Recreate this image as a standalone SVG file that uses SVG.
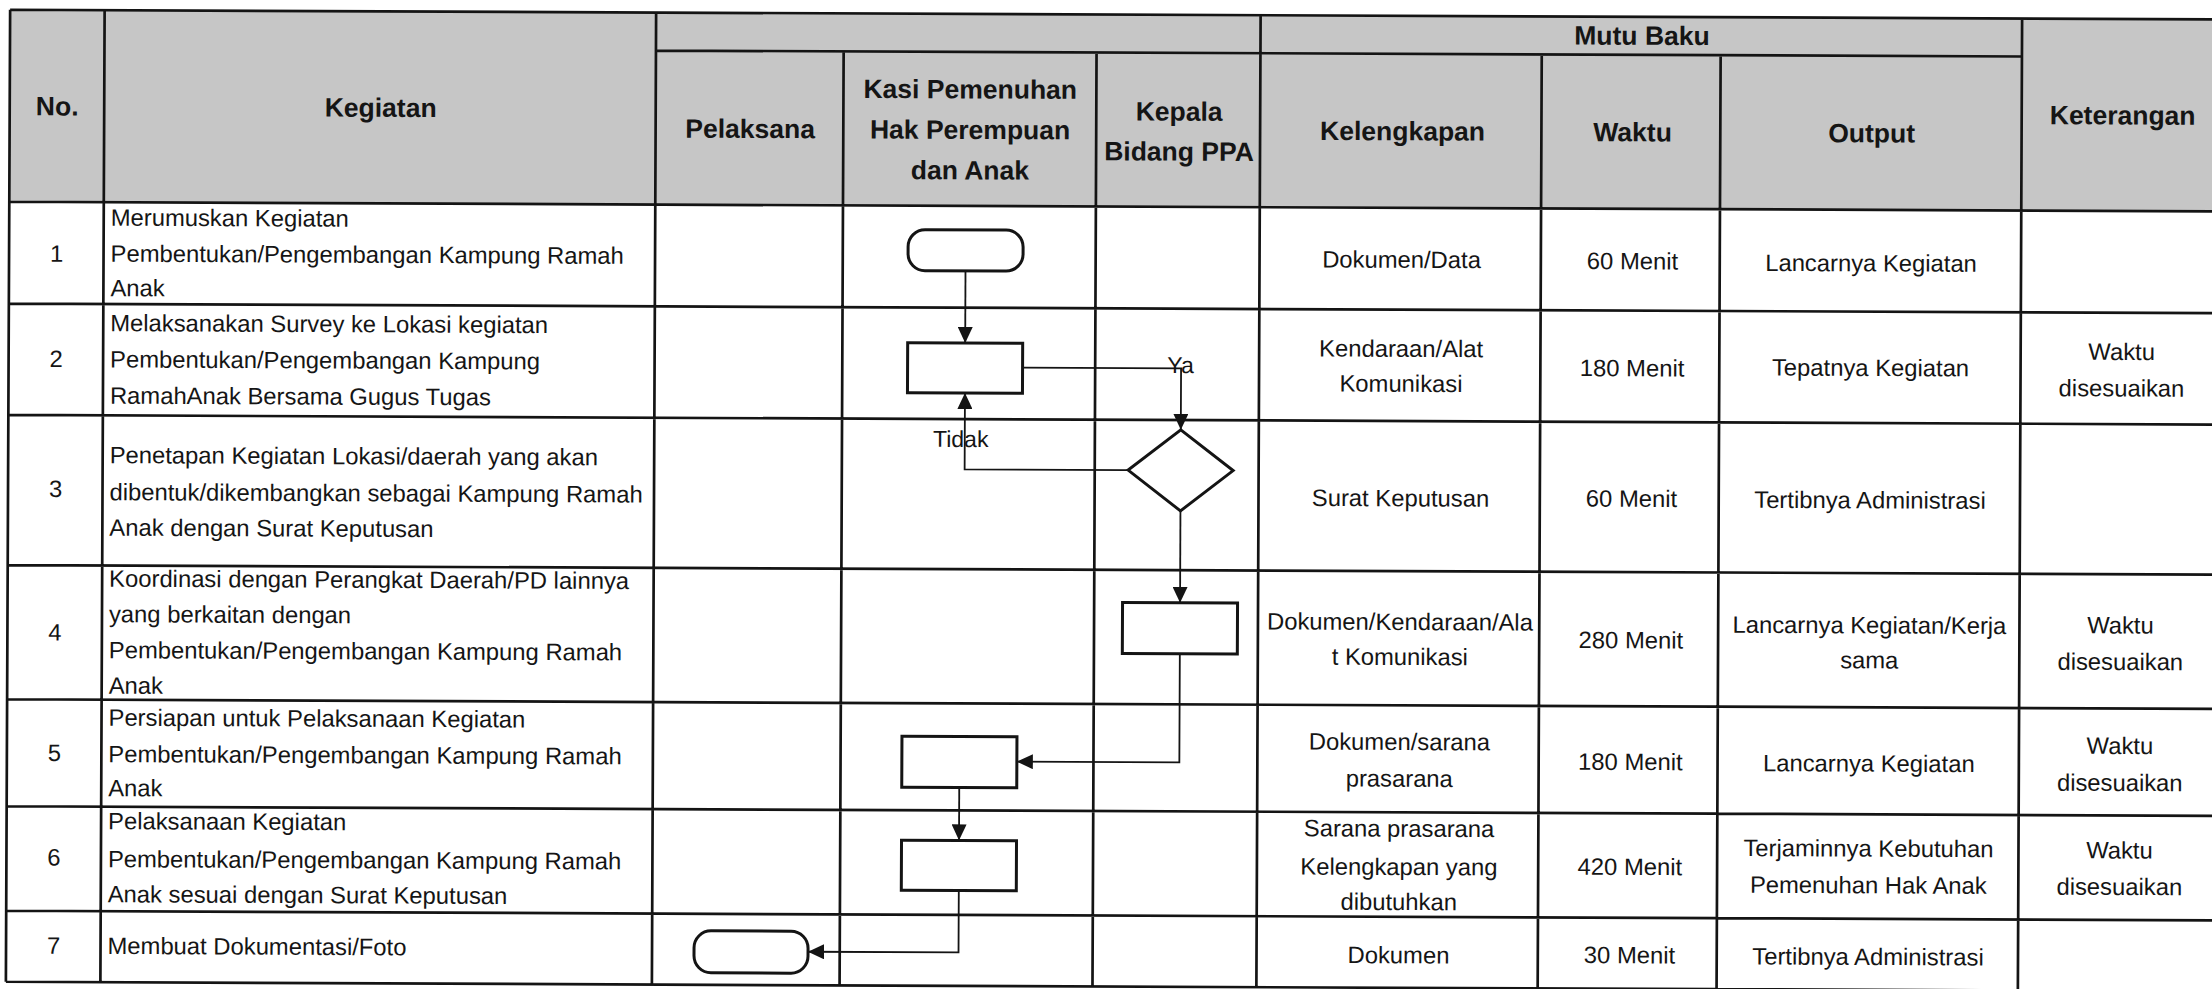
<svg xmlns="http://www.w3.org/2000/svg" width="2212" height="989" viewBox="0 0 2212 989">
<defs>
<style>
.hdrfill{fill:#c6c6c6;stroke:none}
.grid{fill:none;stroke:#141414;stroke-width:2.7}
.t{font-family:"Liberation Sans",Arial,sans-serif;font-size:23.8px;fill:#151515}
.c{text-anchor:middle}
.h{font-family:"Liberation Sans",Arial,sans-serif;font-size:26.5px;font-weight:bold;fill:#151515;text-anchor:middle}
.lbl{font-family:"Liberation Sans",Arial,sans-serif;font-size:23px;fill:#151515}
.shape{fill:#ffffff;stroke:#141414;stroke-width:3}
.conn{fill:none;stroke:#141414;stroke-width:1.8;marker-end:url(#arr)}
</style>
<marker id="arr" markerUnits="userSpaceOnUse" markerWidth="16" markerHeight="15" refX="16" refY="7.5" orient="auto">
<path d="M0,0 L16,7.5 L0,15 Z" fill="#141414"/>
</marker>
</defs>
<rect x="0" y="0" width="2212" height="989" fill="#ffffff"/>
<g transform="rotate(0.25 1100 500)">
<g id="table">
<rect class="hdrfill" x="8" y="14.5" width="2214" height="192"/>
<path class="grid" d="M8,14.5 H2222 M654,52.5 H2020 M8,206.5 H2222 M8,308.3 H2222 M8,419.7 H2222 M8,569.8 H2222 M8,704 H2222 M8,811 H2222 M8,915.5 H2222 M8,986.5 H2222 M8,14.5 V986.5 M102.5,14.5 V986.5 M654,14.5 V986.5 M841.7,52.5 V986.5 M1094.6,52.5 V986.5 M1258.5,14.5 V986.5 M1539.8,52.5 V986.5 M1718.7,52.5 V986.5 M2020,14.5 V986.5 M2222,14.5 V986.5"/>
</g>
<g id="header">
<text class="h" x="55.5" y="120">No.</text>
<text class="h" x="379" y="120">Kegiatan</text>
<text class="h" x="748.5" y="139.5">Pelaksana</text>
<text class="h" x="968.5" y="99">Kasi Pemenuhan</text>
<text class="h" x="968.5" y="139.5">Hak Perempuan</text>
<text class="h" x="968.5" y="180">dan Anak</text>
<text class="h" x="1177.5" y="120.3">Kepala</text>
<text class="h" x="1177.5" y="160.3">Bidang PPA</text>
<text class="h" x="1640" y="42.5">Mutu Baku</text>
<text class="h" x="1401" y="139">Kelengkapan</text>
<text class="h" x="1631" y="139">Waktu</text>
<text class="h" x="1870" y="139">Output</text>
<text class="h" x="2121" y="120">Keterangan</text>
</g>
<g id="row1">
<text class="t c" x="55.5" y="266.3">1</text>
<text class="t" x="109.5" y="230">Merumuskan Kegiatan</text>
<text class="t" x="109.5" y="266">Pembentukan/Pengembangan Kampung Ramah</text>
<text class="t" x="109.5" y="300.5">Anak</text>
<text class="t c" x="1400.5" y="266.5">Dokumen/Data</text>
<text class="t c" x="1631.5" y="267">60 Menit</text>
<text class="t c" x="1870" y="268">Lancarnya Kegiatan</text>
</g>
<g id="row2">
<text class="t c" x="55.5" y="371.6">2</text>
<text class="t" x="109.5" y="335.5">Melaksanakan Survey ke Lokasi kegiatan</text>
<text class="t" x="109.5" y="371.8">Pembentukan/Pengembangan Kampung</text>
<text class="t" x="109.5" y="408">RamahAnak Bersama Gugus Tugas</text>
<text class="t c" x="1400.5" y="355.5">Kendaraan/Alat</text>
<text class="t c" x="1400.5" y="390.5">Komunikasi</text>
<text class="t c" x="1631.5" y="374">180 Menit</text>
<text class="t c" x="1870" y="372.6">Tepatnya Kegiatan</text>
<text class="t c" x="2121" y="355.5">Waktu</text>
<text class="t c" x="2121" y="392">disesuaikan</text>
</g>
<g id="row3">
<text class="t c" x="55.5" y="501.5">3</text>
<text class="t" x="109.5" y="467.5">Penetapan Kegiatan Lokasi/daerah yang akan</text>
<text class="t" x="109.5" y="504.5">dibentuk/dikembangkan sebagai Kampung Ramah</text>
<text class="t" x="109.5" y="540">Anak dengan Surat Keputusan</text>
<text class="t c" x="1400.5" y="505">Surat Keputusan</text>
<text class="t c" x="1631.5" y="504.5">60 Menit</text>
<text class="t c" x="1870" y="505">Tertibnya Administrasi</text>
</g>
<g id="row4">
<text class="t c" x="55.5" y="645">4</text>
<text class="t" x="109.5" y="591">Koordinasi dengan Perangkat Daerah/PD lainnya</text>
<text class="t" x="109.5" y="626.5">yang berkaitan dengan</text>
<text class="t" x="109.5" y="662.5">Pembentukan/Pengembangan Kampung Ramah</text>
<text class="t" x="109.5" y="698">Anak</text>
<text class="t c" x="1400.5" y="628.7">Dokumen/Kendaraan/Ala</text>
<text class="t c" x="1400.5" y="663.7">t Komunikasi</text>
<text class="t c" x="1631.5" y="646">280 Menit</text>
<text class="t c" x="1870" y="630">Lancarnya Kegiatan/Kerja</text>
<text class="t c" x="1870" y="665">sama</text>
<text class="t c" x="2121" y="629">Waktu</text>
<text class="t c" x="2121" y="665.5">disesuaikan</text>
</g>
<g id="row5">
<text class="t c" x="55.5" y="765.6">5</text>
<text class="t" x="109.5" y="730">Persiapan untuk Pelaksanaan Kegiatan</text>
<text class="t" x="109.5" y="766.5">Pembentukan/Pengembangan Kampung Ramah</text>
<text class="t" x="109.5" y="800.5">Anak</text>
<text class="t c" x="1400.5" y="748.7">Dokumen/sarana</text>
<text class="t c" x="1400.5" y="785.4">prasarana</text>
<text class="t c" x="1631.5" y="767.7">180 Menit</text>
<text class="t c" x="1870" y="768.3">Lancarnya Kegiatan</text>
<text class="t c" x="2121" y="749.5">Waktu</text>
<text class="t c" x="2121" y="786.5">disesuaikan</text>
</g>
<g id="row6">
<text class="t c" x="55.5" y="870">6</text>
<text class="t" x="109.5" y="833.5">Pelaksanaan Kegiatan</text>
<text class="t" x="109.5" y="871.5">Pembentukan/Pengembangan Kampung Ramah</text>
<text class="t" x="109.5" y="906.6">Anak sesuai dengan Surat Keputusan</text>
<text class="t c" x="1400.5" y="835.4">Sarana prasarana</text>
<text class="t c" x="1400.5" y="873.7">Kelengkapan yang</text>
<text class="t c" x="1400.5" y="908.7">dibutuhkan</text>
<text class="t c" x="1631.5" y="872.7">420 Menit</text>
<text class="t c" x="1870" y="853.3">Terjaminnya Kebutuhan</text>
<text class="t c" x="1870" y="890">Pemenuhan Hak Anak</text>
<text class="t c" x="2121" y="854">Waktu</text>
<text class="t c" x="2121" y="890.5">disesuaikan</text>
</g>
<g id="row7">
<text class="t c" x="55.5" y="958.3">7</text>
<text class="t" x="109.5" y="958.3">Membuat Dokumentasi/Foto</text>
<text class="t c" x="1400.5" y="962">Dokumen</text>
<text class="t c" x="1631.5" y="961">30 Menit</text>
<text class="t c" x="1870" y="961.6">Tertibnya Administrasi</text>
</g>
<g id="connectors">
<path class="conn" d="M964.5,271.5 V343.5"/>
<path class="conn" d="M1022,368 H1180.5 V429.5"/>
<path class="conn" d="M1128,470 H964.5 V393.5"/>
<path class="conn" d="M1180.5,510.5 V602.5"/>
<path class="conn" d="M1180.5,653.5 V762 H1018"/>
<path class="conn" d="M960.5,788 V841"/>
<path class="conn" d="M960.5,891 V953 H810"/>
<text class="lbl" x="1166.7" y="372.7">Ya</text>
<text class="lbl" x="932.8" y="447.6">Tidak</text>
</g>
<g id="node-start">
<rect class="shape" x="907" y="230.5" width="115" height="41" rx="17" ry="17"/>
</g>
<g id="node-survey">
<rect class="shape" x="907" y="343.5" width="115" height="50"/>
</g>
<g id="node-decision">
<path class="shape" d="M1180.5,429.5 L1233,470 L1180.5,510.5 L1128,470 Z"/>
</g>
<g id="node-koordinasi">
<rect class="shape" x="1123" y="602.5" width="115" height="51"/>
</g>
<g id="node-persiapan">
<rect class="shape" x="903" y="737" width="115" height="51"/>
</g>
<g id="node-pelaksanaan">
<rect class="shape" x="903" y="841" width="115" height="50"/>
</g>
<g id="node-end">
<rect class="shape" x="696" y="932.5" width="114" height="42" rx="17" ry="17"/>
</g>
</g>
</svg>
